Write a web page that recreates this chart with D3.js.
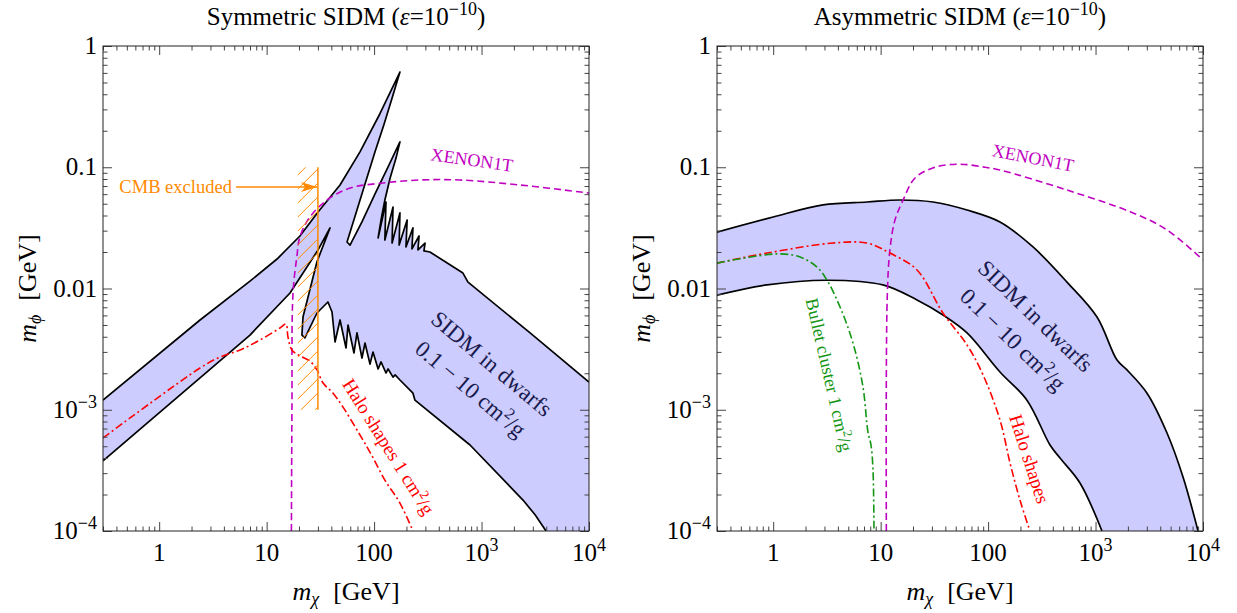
<!DOCTYPE html>
<html>
<head>
<meta charset="utf-8">
<script src="https://cdn.jsdelivr.net/npm/d3@7"></script>
<style>
body { margin: 0; background: #fff; }
svg text { font-family: "Liberation Serif", "Times New Roman", serif; }
</style>
</head>
<body>
<svg id="chart" width="1237" height="613"></svg>
<script>
// tick values and labels (shared by both panels)
var xTicks = [1, 10, 100, 1000, 10000];
var xTickLabels = [["1"], ["10"], ["100"], ["10", "3"], ["10", "4"]];
var yTicks = [1, 0.1, 0.01, 0.001, 0.0001];
var yTickLabels = [["1"], ["0.1"], ["0.01"], ["10", "\u22123"], ["10", "\u22124"]];

// ---- Symmetric SIDM : [mX (GeV), mphi (GeV)] ----
// sigma/m = 0.1 cm2/g contour (top edge of the band, with resonances)
var symUpper = [
  [0.3, 0.00120], [2.40, 0.00550], [7.00, 0.0115], [12.5, 0.0175], [20.4, 0.0271],
  [30.1, 0.0428], [48.2, 0.0714], [73.9, 0.134], [113, 0.275], [174, 0.610],
  [150, 0.394], [124, 0.227], [102, 0.134], [82.3, 0.0728], [67.9, 0.0420],
  [56.0, 0.0242], [59.7, 0.0228], [77.1, 0.0354], [102, 0.0602], [135, 0.1005],
  [174, 0.162], [160, 0.119], [141, 0.0815], [126, 0.0537], [116, 0.0367],
  [109, 0.0261], [129, 0.0517], [126, 0.0251], [150, 0.0470], [147, 0.0237],
  [174, 0.0420], [171, 0.0228], [203, 0.0367], [198, 0.0220], [230, 0.0316],
  [225, 0.0212], [262, 0.0271], [256, 0.0208], [298, 0.0237], [291, 0.0204],
  [331, 0.0200], [671, 0.0134], [748, 0.0113], [2830, 0.00430], [10000, 0.00169]
];
// sigma/m = 10 cm2/g contour (bottom edge of the band)
var symLower = [
  [0.3, 0.000378], [2.40, 0.00183], [7.00, 0.00413], [16.5, 0.00918], [30.1, 0.0208],
  [38.9, 0.0316], [29.4, 0.0166], [21.8, 0.00582], [21.3, 0.00413], [22.7, 0.00391],
  [29.4, 0.00628], [37.2, 0.00774], [40.6, 0.00640], [43.3, 0.00362], [48.2, 0.00550],
  [54.8, 0.00323], [57.2, 0.00500], [65.0, 0.00294], [69.3, 0.00430], [77.1, 0.00267],
  [82.3, 0.00355], [91.6, 0.00238], [97.7, 0.00299], [109, 0.00217], [116, 0.00248],
  [129, 0.00201], [135, 0.00217], [150, 0.00186], [157, 0.00194], [174, 0.00176],
  [230, 0.00137], [240, 0.00120], [781, 0.000512], [2430, 0.000180], [3150, 0.000136],
  [3980, 0.0001]
];
var symHalo = [
  [0.3, 0.000585], [2.40, 0.00221], [3.68, 0.00272], [5.65, 0.00311], [8.67, 0.00376],
  [13.3, 0.00472], [15.1, 0.00509], [15.8, 0.00398], [17.2, 0.00311], [20.4, 0.00278],
  [25.3, 0.00252], [29.4, 0.00213], [33.5, 0.00166], [41.5, 0.00137], [51.4, 0.00105],
  [73.9, 0.000619], [95.7, 0.000416], [126, 0.000263], [174, 0.000170], [230, 0.0001]
];
var symXenon = [
  [17.0, 0.0001], [17.2, 0.001], [17.6, 0.00918], [19.1, 0.0182], [20.4, 0.0266],
  [25.3, 0.0389], [36.5, 0.0537], [59.7, 0.0674], [121, 0.0742], [267, 0.0785],
  [628, 0.0785], [2280, 0.0714], [10000, 0.0613]
];
// CMB excluded strip
var cmbMass = [19.4, 30];
var cmbPhi = [0.001, 0.1];

// ---- Asymmetric SIDM ----
var asymUpper = [
  [0.3, 0.0292], [1.0, 0.0389], [2.91, 0.0489], [7.46, 0.0517], [15.1, 0.0537],
  [30.7, 0.0517], [63.7, 0.0444], [129, 0.0354], [262, 0.0220], [542, 0.0113],
  [1032, 0.00582], [1585, 0.00257], [1963, 0.00213], [3013, 0.00137], [4625, 0.000643],
  [6516, 0.000279], [8990, 0.0001]
];
var asymLower = [
  [0.3, 0.00880], [0.876, 0.0107], [3.17, 0.0117], [10.5, 0.0107], [21.8, 0.00804],
  [38.0, 0.00605], [63.7, 0.00430], [129, 0.00205], [230, 0.00120], [377, 0.000512],
  [467, 0.000400], [716, 0.000249], [1148, 0.0001]
];
var asymHalo = [
  [0.3, 0.0162], [0.876, 0.0196], [3.60, 0.0237], [7.46, 0.0237], [12.2, 0.0196],
  [21.8, 0.0142], [38.0, 0.00628], [63.7, 0.00342], [89.7, 0.00194], [129, 0.000823],
  [160, 0.000364], [198, 0.000180], [245, 0.0001]
];
var asymBullet = [
  [0.3, 0.0162], [1.085, 0.0193], [1.78, 0.0182], [2.56, 0.0150], [3.17, 0.0117],
  [4.19, 0.00704], [5.53, 0.00355], [6.85, 0.00154], [7.62, 0.000655], [8.13, 0.000512],
  [8.49, 0.000318], [8.67, 0.0001]
];
var asymXenon = [
  [11.3, 0.0001], [11.5, 0.00804], [12.2, 0.0208], [13.6, 0.0367], [16.2, 0.0537],
  [20.9, 0.0815], [32.0, 0.100], [54.8, 0.106], [93.6, 0.100], [129, 0.0949],
  [542, 0.0649], [2233, 0.0420], [4625, 0.0304], [10000, 0.0172]
];

var svg = d3.select("#chart");
var W = 486, H = 485, TOP = 46;
var bandFill = "#ccccff", navy = "#1a1a4d", red = "#ff0000",
    magenta = "#c000c0", green = "#149614", orange = "#ff8a00";

var defs = svg.append("defs");
defs.append("marker")
    .attr("id", "arrowhead")
    .attr("markerUnits", "userSpaceOnUse")
    .attr("markerWidth", 18).attr("markerHeight", 12)
    .attr("refX", 16).attr("refY", 6)
    .attr("orient", "auto")
  .append("path")
    .attr("d", "M0,1 L16,6 L0,11 L4,6 Z")
    .attr("fill", orange);

function makePanel(left, name) {
    var g = svg.append("g").attr("transform", "translate(" + left + "," + TOP + ")");
    var x = d3.scaleLog().domain([0.3, 1e4]).range([0, W]);
    var y = d3.scaleLog().domain([1e-4, 1]).range([H, 0]);
    g.append("clipPath").attr("id", "clip-" + name)
      .append("rect").attr("width", W).attr("height", H);
    var plot = g.append("g").attr("clip-path", "url(#clip-" + name + ")");
    return { g: g, plot: plot, x: x, y: y };
}

function addSup(text, parts, supSize) {
    text.append("tspan").text(parts[0]);
    if (parts[1]) text.append("tspan").attr("dy", -10).attr("font-size", supSize).text(parts[1]);
}

function drawFrame(p, title) {
    var g = p.g, x = p.x, y = p.y;
    var xMinor = [], yMinor = [];
    for (var e = -1; e < 4; e++)
        for (var m = 2; m < 10; m++) {
            var v = m * Math.pow(10, e);
            if (v > 0.299 && v < 1e4) xMinor.push(v);
        }
    for (var e2 = -4; e2 < 0; e2++)
        for (var m2 = 2; m2 < 10; m2++) yMinor.push(m2 * Math.pow(10, e2));

    var sides = [
        [function(){ return d3.axisBottom(x); }, "translate(0," + H + ")", xTicks, xMinor],
        [function(){ return d3.axisTop(x); }, null, xTicks, xMinor],
        [function(){ return d3.axisLeft(y); }, null, yTicks, yMinor],
        [function(){ return d3.axisRight(y); }, "translate(" + W + ",0)", yTicks, yMinor]
    ];
    sides.forEach(function(s) {
        [[s[2], 9], [s[3], 4.5]].forEach(function(t) {
            var a = g.append("g").attr("transform", s[1])
                .call(s[0]().tickValues(t[0]).tickSizeInner(-t[1]).tickSizeOuter(0).tickFormat(""));
            a.select(".domain").remove();
            a.selectAll("text").remove();
            a.selectAll("line").attr("stroke", "#444").attr("stroke-width", 1);
        });
    });

    g.append("rect").attr("width", W).attr("height", H)
        .attr("fill", "none").attr("stroke", "#222").attr("stroke-width", 1);

    // tick labels
    xTicks.forEach(function(v, i) {
        var t = g.append("text").attr("x", x(v)).attr("y", H + 30)
            .attr("text-anchor", "middle").attr("font-size", 25);
        addSup(t, xTickLabels[i], 18);
    });
    yTicks.forEach(function(v, i) {
        var t = g.append("text").attr("x", -6).attr("y", y(v) + 8)
            .attr("text-anchor", "end").attr("font-size", 25);
        addSup(t, yTickLabels[i], 18);
    });

    // title
    var tt = g.append("text").attr("x", W / 2).attr("y", -21)
        .attr("text-anchor", "middle").attr("font-size", 25);
    tt.append("tspan").text(title + " (");
    tt.append("tspan").attr("font-style", "italic").text("\u03b5");
    tt.append("tspan").text("=10");
    tt.append("tspan").attr("dy", -10).attr("font-size", 18).text("\u221210");
    tt.append("tspan").attr("dy", 10).text(")");

    // axis titles
    var xt = g.append("text").attr("x", W / 2).attr("y", H + 69)
        .attr("text-anchor", "middle").attr("font-size", 26);
    xt.append("tspan").attr("font-style", "italic").text("m");
    xt.append("tspan").attr("font-style", "italic").attr("dy", 5).attr("font-size", 18).text("\u03c7");
    xt.append("tspan").attr("dy", -5).attr("dx", 14).text("[GeV]");

    var yt = g.append("text").attr("transform", "translate(-67," + (H / 2) + ") rotate(-90)")
        .attr("text-anchor", "middle").attr("font-size", 26);
    yt.append("tspan").attr("font-style", "italic").text("m");
    yt.append("tspan").attr("font-style", "italic").attr("dy", 5).attr("font-size", 18).text("\u03d5");
    yt.append("tspan").attr("dy", -5).attr("dx", 14).text("[GeV]");
}

function bandPath(p, upper, lower, curve) {
    var line = d3.line().x(function(d){ return p.x(d[0]); }).y(function(d){ return p.y(d[1]); }).curve(curve);
    var up = line(upper);
    var lo = line(lower.slice().reverse()).replace(/^M/, "L");
    var corner = line([upper[upper.length - 1], [1e4, 1e-4]]).replace(/^M/, "L");
    p.plot.append("path").attr("d", up + corner + lo + "Z").attr("fill", bandFill).attr("stroke", "none");
    [upper, lower].forEach(function(c) {
        p.plot.append("path").attr("d", line(c)).attr("fill", "none")
            .attr("stroke", "#000").attr("stroke-width", 1.7).attr("stroke-linejoin", "round");
    });
}

function curveLine(p, data, color, dash) {
    var line = d3.line().x(function(d){ return p.x(d[0]); }).y(function(d){ return p.y(d[1]); })
        .curve(d3.curveCatmullRom.alpha(0.5));
    p.plot.append("path").attr("d", line(data)).attr("fill", "none")
        .attr("stroke", color).attr("stroke-width", 1.6).attr("stroke-dasharray", dash);
}

function label(p, mx, mphi, angle, color, size, lines) {
    var t = p.g.append("text")
        .attr("transform", "translate(" + p.x(mx) + "," + p.y(mphi) + ") rotate(" + angle + ")")
        .attr("text-anchor", "middle").attr("fill", color).attr("font-size", size);
    lines.forEach(function(ln) {
        var first = true;
        ln.forEach(function(part) {
            var s = t.append("tspan").text(part.t);
            if (first) { s.attr("x", 0).attr("y", ln.y); first = false; }
            if (part.sup) s.attr("dy", -size * 0.38).attr("font-size", size * 0.7);
            if (part.back) s.attr("dy", size * 0.38);
        });
    });
    return t;
}
function lineOf(parts, yOff) { parts.y = yOff; return parts; }

var dashDot = "8,3,2,3", dashed = "7,4";

// ---------- left panel ----------
var L = makePanel(103, "sym");
bandPath(L, symUpper, symLower, d3.curveLinear);
curveLine(L, symXenon, magenta, dashed);
curveLine(L, symHalo, red, dashDot);

// CMB hatch
var hx0 = L.x(cmbMass[0]), hx1 = L.x(cmbMass[1]), hy0 = L.y(cmbPhi[1]), hy1 = L.y(cmbPhi[0]);
L.g.append("clipPath").attr("id", "clip-cmb")
  .append("rect").attr("x", hx0).attr("y", hy0).attr("width", hx1 - hx0).attr("height", hy1 - hy0);
var hatch = L.g.append("g").attr("clip-path", "url(#clip-cmb)");
d3.range(hy0 - 6, hy1 + (hx1 - hx0) + 14, 14).forEach(function(k) {
    hatch.append("line").attr("x1", hx0).attr("y1", k).attr("x2", hx1).attr("y2", k - (hx1 - hx0))
        .attr("stroke", orange).attr("stroke-width", 1);
});
L.g.append("line").attr("x1", hx1).attr("x2", hx1).attr("y1", hy0).attr("y2", hy1)
    .attr("stroke", orange).attr("stroke-width", 1.5);
L.g.append("line").attr("x1", L.x(5.19)).attr("x2", L.x(29.5))
    .attr("y1", L.y(0.0687)).attr("y2", L.y(0.0687))
    .attr("stroke", orange).attr("stroke-width", 1.6).attr("marker-end", "url(#arrowhead)");
L.g.append("text").attr("x", L.x(4.75)).attr("y", L.y(0.0687) + 6)
    .attr("text-anchor", "end").attr("fill", orange).attr("font-size", 18.5).text("CMB excluded");

label(L, 815, 0.1148, 8, magenta, 18, [lineOf([{ t: "XENON1T" }], 6)]);
label(L, 135, 0.000493, 58, red, 19,
    [lineOf([{ t: "Halo shapes 1 cm" }, { t: "2", sup: true }, { t: "/g", back: true }], 6)]);
label(L, 988, 0.00188, 40, navy, 23, [
    lineOf([{ t: "SIDM in dwarfs" }], -9),
    lineOf([{ t: "0.1 \u2212 10 cm" }, { t: "2", sup: true }, { t: "/g", back: true }], 24)
]);
drawFrame(L, "Symmetric SIDM");

// ---------- right panel ----------
var R = makePanel(717, "asym");
bandPath(R, asymUpper, asymLower, d3.curveCatmullRom.alpha(0.5));
curveLine(R, asymXenon, magenta, dashed);
curveLine(R, asymHalo, red, dashDot);
curveLine(R, asymBullet, green, dashDot);

label(R, 262, 0.119, 11, magenta, 18, [lineOf([{ t: "XENON1T" }], 6)]);
label(R, 216, 0.00472, 44, navy, 23, [
    lineOf([{ t: "SIDM in dwarfs" }], -9),
    lineOf([{ t: "0.1 \u2212 10 cm" }, { t: "2", sup: true }, { t: "/g", back: true }], 24)
]);
label(R, 240, 0.000392, 72, red, 19, [lineOf([{ t: "Halo shapes" }], 6)]);
label(R, 3.31, 0.00194, 77, green, 18,
    [lineOf([{ t: "Bullet cluster 1 cm" }, { t: "2", sup: true }, { t: "/g", back: true }], 6)]);
drawFrame(R, "Asymmetric SIDM");
</script>
</body>
</html>
